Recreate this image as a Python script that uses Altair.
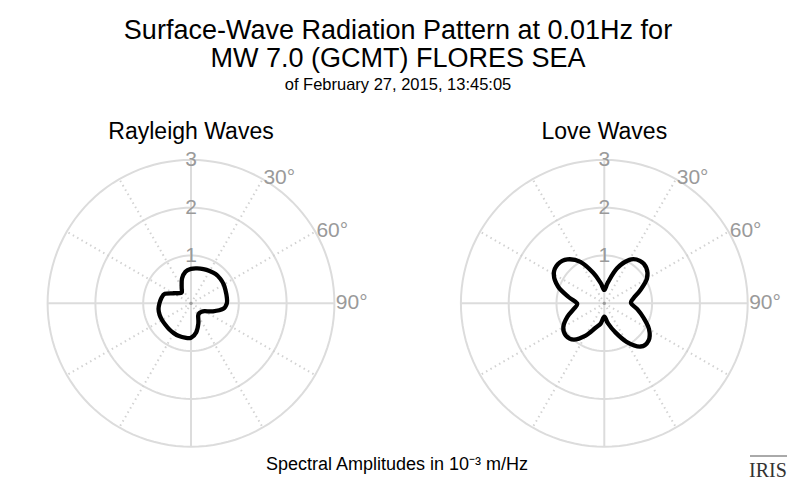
import altair as alt
import pandas as pd
import numpy as np

# ---------------- data ----------------
angles_deg = list(range(0, 360, 10))
rayleigh_amp = [0.72, 0.74, 0.76, 0.78, 0.80, 0.80, 0.79, 0.77, 0.76, 0.75,
                0.68, 0.49, 0.33, 0.28, 0.27, 0.30, 0.45, 0.62, 0.72, 0.73,
                0.73, 0.72, 0.71, 0.70, 0.70, 0.70, 0.69, 0.66, 0.63, 0.58,
                0.42, 0.33, 0.30, 0.39, 0.55, 0.67]
love_amp = [0.28, 0.45, 0.78, 1.05, 1.16, 1.15, 1.03, 0.80, 0.62, 0.56,
            0.70, 0.87, 1.08, 1.21, 1.18, 0.93, 0.63, 0.42, 0.28, 0.43,
            0.55, 0.78, 0.99, 1.05, 0.99, 0.82, 0.64, 0.57, 0.76, 1.03,
            1.22, 1.27, 1.20, 1.00, 0.68, 0.43]
panel_names = ["Rayleigh Waves", "Love Waves"]
ring_values = [1, 2, 3]
ring_texts = ["1", "2", "3"]
angle_ticks = [30, 60, 90]
angle_texts = ["30°", "60°", "90°"]
solid_spokes = [0, 90, 180, 270]
dotted_spokes = [30, 60, 120, 150, 210, 240, 300, 330]
title_lines = ["Surface-Wave Radiation Pattern at 0.01Hz for", "MW 7.0 (GCMT) FLORES SEA"]
subtitle_text = "of February 27, 2015, 13:45:05"
footer_text = "Spectral Amplitudes in 10\u207b\u00b3 m/Hz"
logo_text = "IRIS"

# ---------------- layout constants ----------------
W, H = 780, 380
UNIT = 47.8                      # pixels per amplitude unit
XMIN = -(191 - 8) / UNIT
XMAX = XMIN + W / UNIT
YMAX = (303.3 - 100) / UNIT
YMIN = YMAX - H / UNIT
RIGHT_OFFSET = (604.3 - 191) / UNIT
FONT = "Liberation Sans"
GRID = "#dcdcdc"
LABEL_GRAY = "#9a9a9a"

cx_expr = f"datum.panel == 'Love Waves' ? {RIGHT_OFFSET} : 0"
rad = "PI / 180"

xs = alt.X("x:Q", scale=alt.Scale(domain=[XMIN, XMAX], nice=False, zero=False), axis=None)
ys = alt.Y("y:Q", scale=alt.Scale(domain=[YMIN, YMAX], nice=False, zero=False), axis=None)

# curves
curve_df = pd.DataFrame({
    "panel": ["Rayleigh Waves"] * len(angles_deg) + ["Love Waves"] * len(angles_deg),
    "angle": angles_deg + angles_deg,
    "amp": rayleigh_amp + love_amp,
})
curves = alt.Chart(curve_df).transform_calculate(
    cx=cx_expr
).transform_calculate(
    x=f"datum.cx + datum.amp * sin(datum.angle * {rad})",
    y=f"datum.amp * cos(datum.angle * {rad})",
).mark_line(color="black", strokeWidth=4.3, interpolate="cardinal-closed",
            strokeJoin="round").encode(
    x=xs, y=ys, detail="panel:N", order=alt.Order("angle:Q")
)

# rings
ring_rows = []
for p in panel_names:
    for r in ring_values:
        for a in np.arange(0, 361, 3):
            ring_rows.append({"panel": p, "r": r, "a": float(a), "ring": f"{p}-{r}"})
ring_df = pd.DataFrame(ring_rows)
rings = alt.Chart(ring_df).transform_calculate(
    cx=cx_expr
).transform_calculate(
    x=f"datum.cx + datum.r * sin(datum.a * {rad})",
    y=f"datum.r * cos(datum.a * {rad})",
).mark_line(color=GRID, strokeWidth=2).encode(
    x=xs, y=ys, detail="ring:N", order=alt.Order("a:Q")
)

# spokes
def spoke_layer(angle_list, **mark_kw):
    df = pd.DataFrame([{"panel": p, "a": a} for p in panel_names for a in angle_list])
    return alt.Chart(df).transform_calculate(
        cx=cx_expr
    ).transform_calculate(
        x="datum.cx", y="0",
        x2=f"datum.cx + {ring_values[-1]} * sin(datum.a * {rad})",
        y2=f"{ring_values[-1]} * cos(datum.a * {rad})",
    ).mark_rule(**mark_kw).encode(x=xs, y=ys, x2="x2:Q", y2="y2:Q")

solid = spoke_layer(solid_spokes, color=GRID, strokeWidth=2)
dotted = spoke_layer(dotted_spokes, color="#d2d2d2", strokeWidth=2, strokeDash=[1.5, 3.5])

# centre dots
center_df = pd.DataFrame({"panel": panel_names})
centers = alt.Chart(center_df).transform_calculate(
    cx=cx_expr
).transform_calculate(x="datum.cx", y="0").mark_point(
    filled=True, size=10, color=LABEL_GRAY, opacity=1
).encode(x=xs, y=ys)

# ring labels
rl_df = pd.DataFrame([{"panel": p, "r": r, "t": t} for p in panel_names
                      for r, t in zip(ring_values, ring_texts)])
ring_labels = alt.Chart(rl_df).transform_calculate(
    cx=cx_expr
).transform_calculate(x="datum.cx", y="datum.r").mark_text(
    font=FONT, fontSize=21, color=LABEL_GRAY, align="center", baseline="middle"
).encode(x=xs, y=ys, text="t:N")

# angle labels
al_df = pd.DataFrame([{"panel": p, "a": a, "t": t} for p in panel_names
                      for a, t in zip(angle_ticks, angle_texts)])
angle_labels = alt.Chart(al_df).transform_calculate(
    cx=cx_expr
).transform_calculate(
    x=f"datum.cx + 3.03 * sin(datum.a * {rad})",
    y=f"3.03 * cos(datum.a * {rad})",
).mark_text(
    font=FONT, fontSize=21, color=LABEL_GRAY, align="left", baseline="middle"
).encode(x=xs, y=ys, text="t:N")

# panel titles
panel_titles = alt.Chart(center_df).transform_calculate(
    cx=cx_expr
).transform_calculate(x="datum.cx").mark_text(
    font=FONT, fontSize=23, color="black", align="center", baseline="middle"
).encode(x=xs, y=alt.value(32), text="panel:N")

# footer
footer = alt.Chart(pd.DataFrame({"t": [footer_text]})).mark_text(
    font=FONT, fontSize=18, color="black", align="center", baseline="middle"
).encode(x=alt.value(389), y=alt.value(365), text="t:N")

logo = alt.Chart(pd.DataFrame({"t": [logo_text]})).mark_text(
    font="Liberation Serif", fontSize=20, color="#333333", align="center", baseline="alphabetic"
).encode(x=alt.value(760), y=alt.value(377), text="t:N")
logo_line = alt.Chart(pd.DataFrame({"t": [logo_text]})).mark_rule(
    color="#555555", strokeWidth=1
).encode(x=alt.value(742), x2=alt.value(779), y=alt.value(356))

chart = alt.layer(
    rings, solid, dotted, centers, curves, ring_labels, angle_labels,
    panel_titles, footer, logo, logo_line
).properties(
    width=W, height=H,
    background="white",
    autosize=alt.AutoSizeParams(type="none"),
    padding={"left": 0, "top": 92, "right": 0, "bottom": 0},
    title=alt.Title(
        text=title_lines, subtitle=subtitle_text, anchor="middle",
        font=FONT, fontSize=27, fontWeight="normal", color="black", lineHeight=28,
        subtitleFont=FONT, subtitleFontSize=16.5, subtitleColor="black",
        subtitlePadding=4, offset=6,
    ),
).configure_view(strokeWidth=0, stroke=None)

chart.save("out.html", embed_options={"renderer": "svg", "actions": False})
